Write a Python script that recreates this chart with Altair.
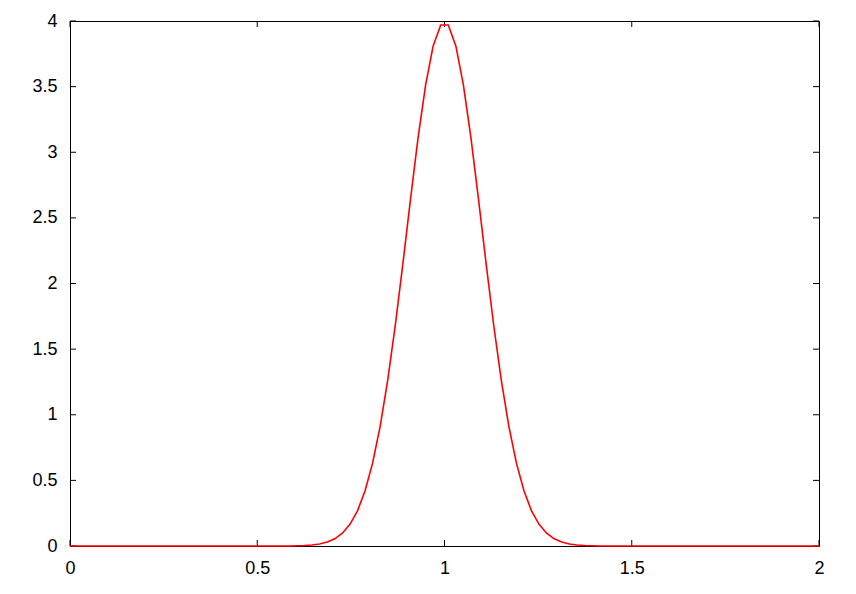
import altair as alt
import pandas as pd

# sample positions (gnuplot default 100 samples on [0, 2])
xs = [0.0, 0.0202, 0.0404, 0.0606, 0.0808, 0.1010, 0.1212, 0.1414, 0.1616, 0.1818,
      0.2020, 0.2222, 0.2424, 0.2626, 0.2828, 0.3030, 0.3232, 0.3434, 0.3636, 0.3838,
      0.4040, 0.4242, 0.4444, 0.4646, 0.4848, 0.5051, 0.5253, 0.5455, 0.5657, 0.5859,
      0.6061, 0.6263, 0.6465, 0.6667, 0.6869, 0.7071, 0.7273, 0.7475, 0.7677, 0.7879,
      0.8081, 0.8283, 0.8485, 0.8687, 0.8889, 0.9091, 0.9293, 0.9495, 0.9697, 0.9899,
      1.0101, 1.0303, 1.0505, 1.0707, 1.0909, 1.1111, 1.1313, 1.1515, 1.1717, 1.1919,
      1.2121, 1.2323, 1.2525, 1.2727, 1.2929, 1.3131, 1.3333, 1.3535, 1.3737, 1.3939,
      1.4141, 1.4343, 1.4545, 1.4747, 1.4949, 1.5152, 1.5354, 1.5556, 1.5758, 1.5960,
      1.6162, 1.6364, 1.6566, 1.6768, 1.6970, 1.7172, 1.7374, 1.7576, 1.7778, 1.7980,
      1.8182, 1.8384, 1.8586, 1.8788, 1.8990, 1.9192, 1.9394, 1.9596, 1.9798, 2.0]

ys = [0, 0, 0, 0, 0, 0, 0, 0, 0, 0,
      0, 0, 0, 0, 0, 0, 0, 0, 0, 0,
      0, 0, 0, 0, 0, 0, 0, 0, 0, 0,
      0.002, 0.004, 0.008, 0.015, 0.030, 0.055, 0.097, 0.165, 0.268, 0.421,
      0.633, 0.913, 1.266, 1.684, 2.152, 2.639, 3.107, 3.511, 3.810, 3.969,
      3.969, 3.810, 3.511, 3.107, 2.639, 2.152, 1.684, 1.266, 0.913, 0.633,
      0.421, 0.268, 0.165, 0.097, 0.055, 0.030, 0.015, 0.008, 0.004, 0.002,
      0, 0, 0, 0, 0, 0, 0, 0, 0, 0,
      0, 0, 0, 0, 0, 0, 0, 0, 0, 0,
      0, 0, 0, 0, 0, 0, 0, 0, 0, 0]

x_ticks = [0, 0.5, 1, 1.5, 2]
y_ticks = [0, 0.5, 1, 1.5, 2, 2.5, 3, 3.5, 4]

W, H = 749, 525
TICK = 6

df = pd.DataFrame({"x": xs, "y": ys})
dfx = pd.DataFrame({"x": x_ticks})
dfy = pd.DataFrame({"y": y_ticks})

xscale = alt.Scale(domain=[0, 2], nice=False, zero=False)
yscale = alt.Scale(domain=[0, 4], nice=False, zero=False)

line = alt.Chart(df).mark_line(color="#ff0000", strokeWidth=1.6).encode(
    x=alt.X("x:Q", scale=xscale, title=None,
            axis=alt.Axis(values=x_ticks, format="~g", labelPadding=13,
                          labelFlush=False, labelOverlap=False)),
    y=alt.Y("y:Q", scale=yscale, title=None,
            axis=alt.Axis(values=y_ticks, format="~g", labelPadding=13,
                          labelFlush=False, labelOverlap=False)),
)

left_ticks = alt.Chart(dfy).mark_rule(color="black", strokeWidth=1).encode(
    y=alt.Y("y:Q", scale=yscale, title=None), x=alt.value(0), x2=alt.value(TICK))
right_ticks = alt.Chart(dfy).mark_rule(color="black", strokeWidth=1).encode(
    y=alt.Y("y:Q", scale=yscale, title=None), x=alt.value(W - TICK), x2=alt.value(W))
bottom_ticks = alt.Chart(dfx).mark_rule(color="black", strokeWidth=1).encode(
    x=alt.X("x:Q", scale=xscale, title=None), y=alt.value(H - TICK), y2=alt.value(H))
top_ticks = alt.Chart(dfx).mark_rule(color="black", strokeWidth=1).encode(
    x=alt.X("x:Q", scale=xscale, title=None), y=alt.value(0), y2=alt.value(TICK))

chart = alt.layer(left_ticks, right_ticks, bottom_ticks, top_ticks, line).properties(
    width=W, height=H,
    padding={"left": 62, "top": 13, "right": 29, "bottom": 40},
    autosize=alt.AutoSizeParams(type="none"),
    background="white",
).configure_view(
    stroke="black", strokeWidth=1
).configure_axis(
    grid=False, domain=False, ticks=False, tickSize=0,
    labelFont="Liberation Sans", labelFontSize=18, labelColor="black",
)

chart.save("out.html", embed_options={"renderer": "svg", "actions": False})
